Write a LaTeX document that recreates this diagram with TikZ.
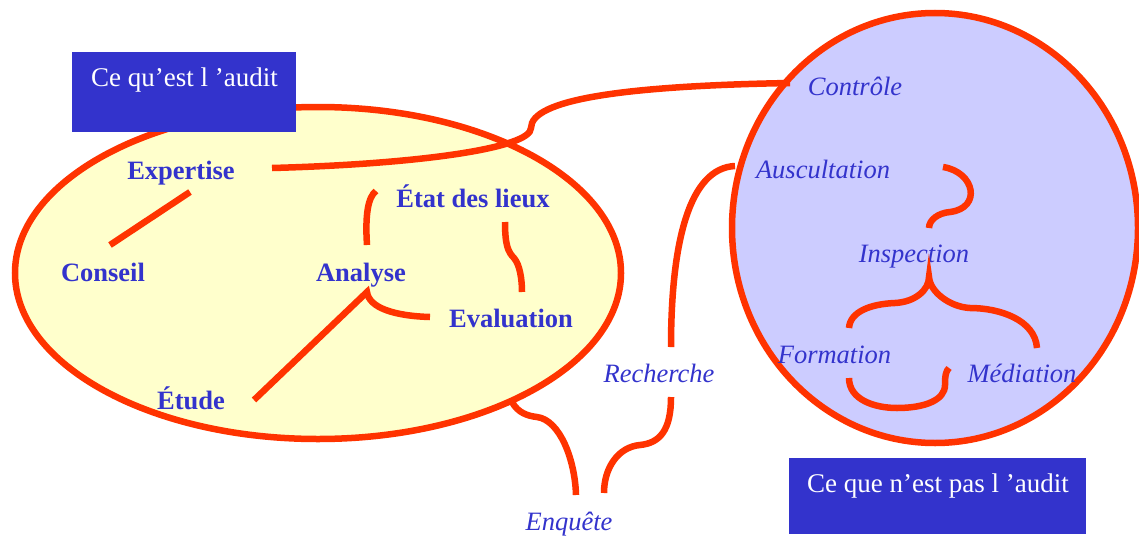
\documentclass[tikz,border=0pt]{standalone}
\usepackage{fontspec}
\setmainfont{Liberation Serif}
\usetikzlibrary{shapes.geometric}
\definecolor{linered}{HTML}{FF3300}
\definecolor{txtblue}{HTML}{3333CC}
\definecolor{paleyellow}{HTML}{FFFFCC}
\definecolor{lavender}{HTML}{CCCCFF}
\tikzset{
  oval/.style={ellipse, draw=linered, line width=6.5pt, inner sep=0pt},
  bluebox/.style={rectangle, fill=txtblue, draw=none, inner sep=0pt},
  boxtext/.style={text=white, inner sep=0pt, anchor=base, font=\fontsize{27}{31}\selectfont},
  boldlbl/.style={text=txtblue, inner sep=0pt, anchor=base, font=\fontsize{26.5}{30}\selectfont\bfseries},
  itlbl/.style={text=txtblue, inner sep=0pt, anchor=base, font=\fontsize{26.5}{30}\selectfont\itshape},
  conn/.style={draw=linered, line width=6.5pt}
}
\begin{document}
\begin{tikzpicture}[x=1pt,y=-1pt]
\useasboundingbox (0,0) rectangle (1139,535);
% ovals
\node[oval, fill=paleyellow, minimum width=606pt, minimum height=332pt] (yellow) at (318,273) {};
\node[oval, fill=lavender, minimum width=406pt, minimum height=430pt] (violet) at (935,228) {};
% boxes
\node[bluebox, minimum width=224pt, minimum height=80pt] (box1) at (184,92) {};
\node[boxtext] (box1t) at (184.5,86) {Ce qu’est l ’audit};
\node[bluebox, minimum width=297pt, minimum height=76pt] (box2) at (937.5,496) {};
\node[boxtext] (box2t) at (938,492) {Ce que n’est pas l ’audit};
% labels
\node[boldlbl] (expertise) at (181,179) {Expertise};
\node[boldlbl] (conseil) at (103,281) {Conseil};
\node[boldlbl] (analyse) at (361,281) {Analyse};
\node[boldlbl] (etat) at (473,207) {État des lieux};
\node[boldlbl] (evaluation) at (511,327) {Evaluation};
\node[boldlbl] (etude) at (191,409) {Étude};
\node[itlbl] (controle) at (855,95) {Contrôle};
\node[itlbl] (auscultation) at (823,178) {Auscultation};
\node[itlbl] (inspection) at (914,262) {Inspection};
\node[itlbl] (formation) at (834.5,363) {Formation};
\node[itlbl] (mediation) at (1022,382) {Médiation};
\node[itlbl] (recherche) at (659,382) {Recherche};
\node[itlbl] (enquete) at (569,530) {Enquête};
% connector end points
\coordinate (cA1) at (272,168);
\coordinate (cA2) at (790,83);
\coordinate (cB1) at (190,192);
\coordinate (cB2) at (110,245);
\coordinate (cC1) at (367,245);
\coordinate (cC2) at (376,191);
\coordinate (cD1) at (505,222);
\coordinate (cD2) at (522,292);
\coordinate (cE0) at (367,292);
\coordinate (cE1) at (254,400);
\coordinate (cE2) at (430,317);
\coordinate (cF1) at (943,167);
\coordinate (cF2) at (929,228);
\coordinate (cG0) at (929,277);
\coordinate (cG1) at (849,328);
\coordinate (cG2) at (1037,348);
\coordinate (cH1) at (849,378);
\coordinate (cH2) at (949,368);
\coordinate (cI1) at (671,347);
\coordinate (cI2) at (735,166);
\coordinate (cJ1) at (671,397);
\coordinate (cJ2) at (604,493);
\coordinate (cK1) at (512,402);
\coordinate (cK2) at (576,495);
% connectors
\draw[conn] (cA1) .. controls (420,164) and (531,148) .. (531,128)
                  .. controls (531,100) and (620,86) .. (cA2);
\draw[conn] (cB1) -- (cB2);
\draw[conn] (cC1) .. controls (365,215) and (368,197) .. (cC2);
\draw[conn] (cD1) .. controls (505,245) and (508,252) .. (514,258)
                  .. controls (520,265) and (522,280) .. (cD2);
\draw[conn] (cE1) -- (cE0) .. controls (369,308) and (395,316) .. (cE2);
\draw[conn] (cF1) .. controls (975,172) and (982,208) .. (950,212)
                  .. controls (938,213) and (929,220) .. (cF2);
\draw[conn] (cG1) .. controls (850,312) and (870,304) .. (895,303)
                  .. controls (915,302) and (929,290) .. (cG0)
                  .. controls (930,292) and (950,307) .. (970,308)
                  .. controls (1000,308) and (1035,320) .. (cG2);
\draw[conn] (cH1) .. controls (849,400) and (875,408) .. (897,408)
                  .. controls (925,408) and (945,400) .. (945,385)
                  .. controls (945,375) and (946,371) .. (cH2);
\draw[conn] (cI1) .. controls (671,240) and (690,168) .. (cI2);
\draw[conn] (cJ1) .. controls (671,430) and (660,443) .. (640,445)
                  .. controls (618,447) and (604,468) .. (cJ2);
\draw[conn] (cK1) .. controls (518,413) and (528,416) .. (537,417)
                  .. controls (560,420) and (575,460) .. (cK2);
\end{tikzpicture}
\end{document}
